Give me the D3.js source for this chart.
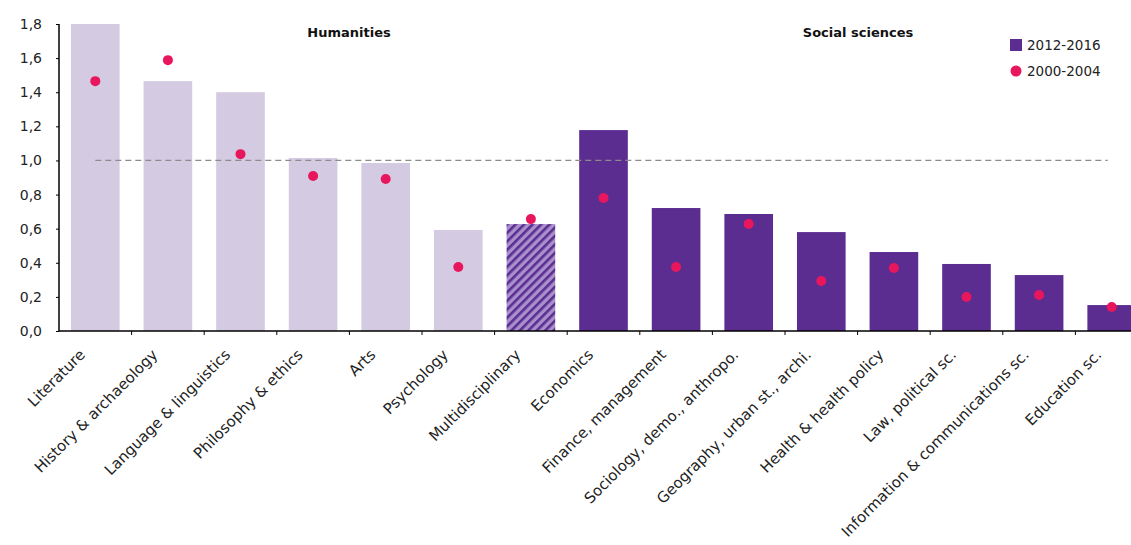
<!DOCTYPE html>
<html>
<head>
<meta charset="utf-8">
<script src="https://cdn.jsdelivr.net/npm/d3@7"></script>
<style>
  body { margin: 0; background: #fff; }
  text { font-family: "DejaVu Sans", sans-serif; }
</style>
</head>
<body>
<svg id="plot"></svg>
<script>
let dimensions = {
    width: 1131,
    height: 545,
    left: 59,
    right: 1148,
    top: 24,
    bottom: 331,
};

// data
const categories = ["Literature", "History & archaeology", "Language & linguistics", "Philosophy & ethics",
    "Arts", "Psychology", "Multidisciplinary", "Economics", "Finance, management",
    "Sociology, demo., anthropo.", "Geography, urban st., archi.", "Health & health policy",
    "Law, political sc.", "Information & communications sc.", "Education sc."];
const groups = ["hum", "hum", "hum", "hum", "hum", "hum", "multi", "soc", "soc", "soc", "soc", "soc", "soc", "soc", "soc"];
const values2012 = [1.80, 1.465, 1.40, 1.014, 0.985, 0.592, 0.627, 1.178, 0.721, 0.686, 0.58, 0.463, 0.393, 0.328, 0.152];
const values2000 = [1.465, 1.588, 1.037, 0.909, 0.891, 0.375, 0.656, 0.78, 0.375, 0.627, 0.293, 0.369, 0.199, 0.211, 0.141];
const yTicks = [0, 0.2, 0.4, 0.6, 0.8, 1.0, 1.2, 1.4, 1.6, 1.8];
const seriesNames = ["2012-2016", "2000-2004"];
const sectionLabels = ["Humanities", "Social sciences"];

const colors = { hum: "#d4cbe3", soc: "#5c2d91", dot: "#e8175d" };

const svg = d3.select("#plot")
    .attr("width", dimensions.width)
    .attr("height", dimensions.height);

const defs = svg.append("defs");
const pat = defs.append("pattern")
    .attr("id", "hatch")
    .attr("patternUnits", "userSpaceOnUse")
    .attr("width", 6)
    .attr("height", 6)
    .attr("patternTransform", "rotate(45)");
pat.append("rect").attr("width", 6).attr("height", 6).attr("fill", "#a890cc");
pat.append("rect").attr("width", 2.6).attr("height", 6).attr("fill", "#5c2d91");

const xScale = d3.scaleBand()
    .domain(categories)
    .range([dimensions.left, dimensions.right])
    .paddingInner(0.33)
    .paddingOuter(0.165);

const yScale = d3.scaleLinear()
    .domain([0, 1.8])
    .range([dimensions.bottom, dimensions.top]);

// bars
svg.append("g")
    .selectAll("rect")
    .data(categories)
    .join("rect")
    .attr("x", d => xScale(d))
    .attr("width", xScale.bandwidth())
    .attr("y", (d, i) => yScale(values2012[i]))
    .attr("height", (d, i) => yScale(0) - yScale(values2012[i]))
    .attr("fill", (d, i) => groups[i] == "multi" ? "url(#hatch)" : colors[groups[i]]);

// reference line at 1.0
svg.append("line")
    .attr("x1", xScale(categories[0]) + xScale.bandwidth() / 2)
    .attr("x2", xScale(categories[categories.length - 1]) + xScale.bandwidth() / 2 - 4)
    .attr("y1", yScale(1))
    .attr("y2", yScale(1))
    .attr("stroke", "#8c8c8c")
    .attr("stroke-width", 1.2)
    .attr("stroke-dasharray", "6,4");

// dots
svg.append("g")
    .selectAll("circle")
    .data(categories)
    .join("circle")
    .attr("cx", d => xScale(d) + xScale.bandwidth() / 2)
    .attr("cy", (d, i) => yScale(values2000[i]))
    .attr("r", 5)
    .attr("fill", colors.dot);

// y axis
const yAxis = d3.axisLeft(yScale)
    .tickValues(yTicks)
    .tickSize(3)
    .tickFormat(d => d3.format(".1f")(d).replace(".", ","));
const gy = svg.append("g")
    .attr("transform", `translate(${dimensions.left},0)`)
    .call(yAxis);
gy.select(".domain").attr("stroke", "#000").attr("stroke-width", 1.5)
    .attr("d", `M0,${dimensions.top}V${dimensions.bottom}`);
gy.selectAll(".tick line").attr("stroke", "#000");
gy.selectAll(".tick text")
    .attr("x", -17)
    .attr("font-size", 14)
    .attr("fill", "#222");

// x axis
const xAxis = d3.axisBottom(xScale).tickSize(0).tickFormat("");
const gx = svg.append("g")
    .attr("transform", `translate(0,${dimensions.bottom})`)
    .call(xAxis);
gx.select(".domain").attr("stroke", "#000").attr("stroke-width", 1.5)
    .attr("d", `M${dimensions.left},0H${dimensions.right}`);
gx.selectAll(".sep")
    .data(categories.slice(1))
    .join("line")
    .attr("class", "sep")
    .attr("x1", d => xScale(d) - xScale.step() * xScale.paddingInner() / 2)
    .attr("x2", d => xScale(d) - xScale.step() * xScale.paddingInner() / 2)
    .attr("y1", 0)
    .attr("y2", 4)
    .attr("stroke", "#000");

svg.append("g")
    .selectAll("text")
    .data(categories)
    .join("text")
    .attr("transform", d => `translate(${xScale(d) + xScale.bandwidth() / 2 - 13},352) rotate(-45)`)
    .attr("text-anchor", "end")
    .attr("dy", "0.35em")
    .attr("font-size", 15)
    .attr("fill", "#222")
    .text(d => d);

// section headers
svg.append("text")
    .attr("x", 349).attr("y", 37)
    .attr("text-anchor", "middle")
    .attr("font-weight", "bold")
    .attr("font-size", 13)
    .attr("fill", "#111")
    .text(sectionLabels[0]);
svg.append("text")
    .attr("x", 858).attr("y", 37)
    .attr("text-anchor", "middle")
    .attr("font-weight", "bold")
    .attr("font-size", 13)
    .attr("fill", "#111")
    .text(sectionLabels[1]);

// legend
const legend = svg.append("g").attr("transform", "translate(1010,0)");
legend.append("rect")
    .attr("x", 0).attr("y", 39).attr("width", 12).attr("height", 12)
    .attr("fill", colors.soc);
legend.append("circle")
    .attr("cx", 6).attr("cy", 71).attr("r", 5.5)
    .attr("fill", colors.dot);
legend.selectAll("text.leg")
    .data(seriesNames)
    .join("text")
    .attr("class", "leg")
    .attr("x", 17)
    .attr("y", (d, i) => 45 + i * 26)
    .attr("dy", "0.35em")
    .attr("font-size", 13.5)
    .attr("fill", "#222")
    .text(d => d);
</script>
</body>
</html>
